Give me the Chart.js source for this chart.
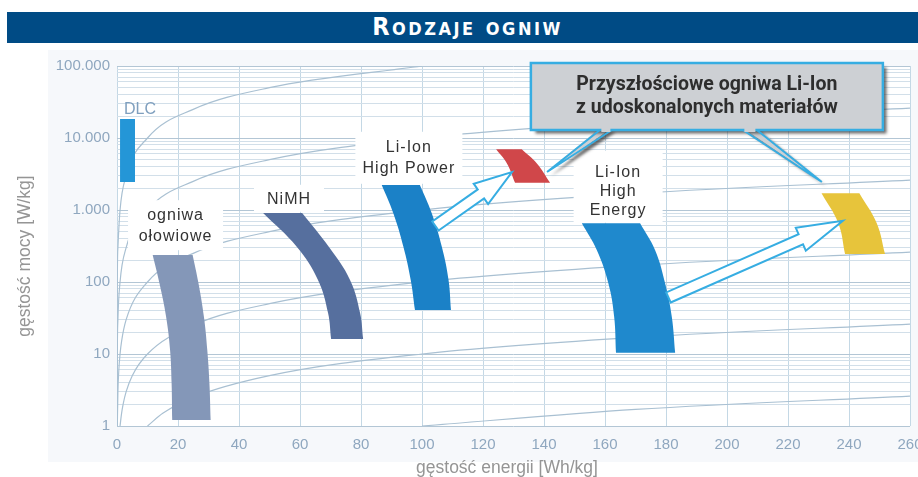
<!DOCTYPE html>
<html>
<head>
<meta charset="utf-8">
<script src="https://cdn.jsdelivr.net/npm/chart.js@4.4.1/dist/chart.umd.min.js"></script>
<style>
  html, body { margin: 0; padding: 0; background: #fff; }
  #wrap { position: relative; width: 918px; height: 477px; overflow: hidden; }
  canvas { position: absolute; left: 0; top: 0; }
  #bar {
    position: absolute; left: 7px; top: 12px; width: 901px; height: 31px; padding-left: 10px;
    background: #004b85; color: #fff; text-align: center; line-height: 32px;
    font: bold 25px "Liberation Sans Narrow", "DejaVu Sans Condensed", sans-serif;
    font-variant: small-caps; letter-spacing: 2.5px;
  }
</style>
</head>
<body>
<div id="wrap">
  <canvas id="ct-chart" width="918" height="477"></canvas>
  <div id="bar">Rodzaje ogniw</div>
</div>
<script>
// axes
const xTicks = [0, 20, 40, 60, 80, 100, 120, 140, 160, 180, 200, 220, 240, 260];
const yTickValues = [1, 10, 100, 1000, 10000, 100000];
const yTickLabels = ['1', '10', '100', '1.000', '10.000', '100.000'];

// outlines of the areas: energy [Wh/kg] / power [W/kg], down the left edge, up the right edge
const dlcE = [1.0, 1.0, 5.9, 5.9];
const dlcP = [18400, 2450, 2450, 18400];

const leadE = [11.7, 13.9, 16.1, 17.4, 17.9, 18.1, 30.7, 30.3, 29.6, 28.5, 26.7, 24.8];
const leadP = [237, 97, 33, 11.4, 3.95, 1.21, 1.21, 3.95, 11.4, 33, 97, 237];

const nimhE = [47.9, 59.0, 65.9, 69.2, 70.2, 80.7, 79.7, 76.4, 69.5, 60.7];
const nimhP = [908, 306, 107, 37, 16.1, 16.1, 37, 107, 306, 908];

const hpE = [86.8, 90.6, 93.9, 96.3, 97.7, 109.5, 108.7, 106.5, 103.2, 99.3];
const hpP = [2220, 900, 309, 107, 40.8, 40.8, 107, 309, 900, 2220];

const futHpE = [124.3, 127.8, 130.5, 142.0, 137.6, 132.7];
const futHpP = [6970, 4460, 2390, 2390, 4460, 6970];

const heE = [152.4, 157.3, 161.1, 163.0, 163.6, 183.0, 181.9, 179.7, 176.4, 171.5];
const heP = [653, 278, 96, 33, 10.4, 10.4, 33, 96, 278, 653];

const futHeE = [231.0, 236.5, 238.7, 251.8, 249.1, 243.4];
const futHeP = [1706, 653, 245, 245, 653, 1706];

// grey lines of constant discharge time
const iso1E = [0.001, 0.1, 0.3, 1, 3, 10, 25, 50, 100];
const iso1P = [1, 100, 300, 1000, 3000, 10000, 25000, 50000, 100000];
const iso2E = [0.01, 0.1, 0.3, 1, 3, 10, 25, 50, 100, 170, 260];
const iso2P = [1, 10, 30, 100, 300, 1000, 2500, 5000, 10000, 17000, 26000];
const iso3E = [0.1, 0.3, 0.6, 1, 1.5, 3, 10, 25, 50, 100, 170, 260];
const iso3P = [1, 3, 6, 10, 15, 30, 100, 250, 500, 1000, 1700, 2600];
const iso4E = [1, 1.5, 2, 3, 5, 10, 25, 50, 100, 170, 260];
const iso4P = [1, 1.5, 2, 3, 5, 10, 25, 50, 100, 170, 260];
const iso5E = [10, 15, 25, 50, 100, 170, 260];
const iso5P = [1, 1.5, 2.5, 5, 10, 17, 26];
const iso6E = [100, 170, 260];
const iso6P = [1, 1.7, 2.6];

function pts(E, P) {
  return E.map((e, i) => ({x: e, y: P[i]}));
}

function area(E, P, color) {
  const p = pts(E, P);
  // bottom corners twice so the curved edges stay sharp at the corners
  const m = p.length / 2;
  p.splice(m, 0, {...p[m]});
  p.splice(m, 0, {...p[m - 1]});
  return {data: p, showLine: true, fill: 'shape', backgroundColor: color, tension: 0.4,
          borderWidth: 0, pointRadius: 0, order: 1};
}

function iso(E, P) {
  return {data: pts(E, P), showLine: true, fill: false, borderColor: '#a9c0d2', borderWidth: 1.2,
          pointRadius: 0, cubicInterpolationMode: 'monotone', order: 2};
}

// labels, arrows and the callout
const labels = [
  {lines: ['ogniwa', 'ołowiowe'], at: [19.2, 596], gap: 21, box: [95, 50, -1]},
  {lines: ['NiMH'], at: [56.4, 1409], gap: 0, box: [70, 27, -1]},
  {lines: ['Li-Ion', 'High Power'], at: [95.7, 5310], gap: 21, box: [107, 52, 0]},
  {lines: ['Li-Ion', 'High', 'Energy'], at: [164.3, 1795], gap: 19, box: [89, 72, -5]}
];
const arrows = [
  {from: [104.4, 600], to: [129.5, 3370], headLen: 38},
  {from: [180.8, 61], to: [238.0, 710], headLen: 46}
];
const callout = {
  lines: ['Przyszłościowe ogniwa Li-Ion', 'z udoskonalonych materiałów'],
  at: [193.4, 37700], w: 352, h: 67,
  tails: [{a: 69, b: 81, tip: [141.0, 3370]}, {a: 212, b: 226, tip: [231.1, 2450]}]
};

function drawArrow(ctx, x0, y0, x1, y1, headLen) {
  const shaft = 5.5, head = 12.5;
  const dx = x1 - x0, dy = y1 - y0, len = Math.hypot(dx, dy);
  const ux = dx / len, uy = dy / len, nx = -uy, ny = ux;
  const bx = x1 - ux * headLen, by = y1 - uy * headLen;
  ctx.beginPath();
  ctx.moveTo(x0 + nx * shaft, y0 + ny * shaft);
  ctx.lineTo(bx + nx * shaft, by + ny * shaft);
  ctx.lineTo(bx + nx * head, by + ny * head);
  ctx.lineTo(x1, y1);
  ctx.lineTo(bx - nx * head, by - ny * head);
  ctx.lineTo(bx - nx * shaft, by - ny * shaft);
  ctx.lineTo(x0 - nx * shaft, y0 - ny * shaft);
  ctx.closePath();
  ctx.fillStyle = '#ffffff';
  ctx.fill();
  ctx.strokeStyle = '#36ade2';
  ctx.lineWidth = 2;
  ctx.stroke();
}

const sketch = {
  id: 'sketch',
  beforeDraw(chart) {
    const {ctx, chartArea: a} = chart;
    ctx.save();
    ctx.fillStyle = '#f6f8fb';
    ctx.fillRect(48, 50, 870, 412);
    ctx.fillStyle = '#ffffff';
    ctx.fillRect(a.left, a.top, a.right - a.left, a.bottom - a.top);
    ctx.restore();
  },
  afterDatasetsDraw(chart) {
    const ctx = chart.ctx;
    const px = v => chart.scales.x.getPixelForValue(v);
    const py = v => chart.scales.y.getPixelForValue(v);
    ctx.save();

    // white label boxes
    ctx.textAlign = 'center';
    ctx.textBaseline = 'middle';
    ctx.font = '16px "Liberation Sans", Arial, sans-serif';
    ctx.letterSpacing = '1px';
    labels.forEach(l => {
      const cx = px(l.at[0]), cy = py(l.at[1]);
      const [w, h, dy] = l.box;
      ctx.fillStyle = '#ffffff';
      ctx.fillRect(cx - w / 2, cy + dy - h / 2, w, h);
      ctx.fillStyle = '#333333';
      const y0 = cy - (l.lines.length - 1) * l.gap / 2;
      l.lines.forEach((t, i) => ctx.fillText(t, cx, y0 + i * l.gap));
    });

    ctx.textAlign = 'left';
    ctx.fillStyle = '#7f9fbe';
    ctx.letterSpacing = '0px';
    ctx.fillText('DLC', px(2.3), py(25100));

    arrows.forEach(a => drawArrow(ctx, px(a.from[0]), py(a.from[1]), px(a.to[0]), py(a.to[1]), a.headLen));

    // callout with shadow
    const bx = px(callout.at[0]) - callout.w / 2, by = py(callout.at[1]) - callout.h / 2;
    const grey = '#cdd0d4', blue = '#36ade2';
    ctx.save();
    ctx.shadowColor = 'rgba(40,40,40,0.7)';
    ctx.shadowOffsetX = 4;
    ctx.shadowOffsetY = 4;
    ctx.shadowBlur = 3;
    ctx.fillStyle = grey;
    callout.tails.forEach(t => {
      ctx.beginPath();
      ctx.moveTo(bx + t.a, by + callout.h - 2);
      ctx.lineTo(px(t.tip[0]), py(t.tip[1]));
      ctx.lineTo(bx + t.b, by + callout.h - 2);
      ctx.closePath();
      ctx.fill();
    });
    ctx.fillRect(bx, by, callout.w, callout.h);
    ctx.restore();
    ctx.strokeStyle = blue;
    ctx.lineWidth = 2;
    callout.tails.forEach(t => {
      ctx.beginPath();
      ctx.moveTo(bx + t.a, by + callout.h);
      ctx.lineTo(px(t.tip[0]), py(t.tip[1]));
      ctx.lineTo(bx + t.b, by + callout.h);
      ctx.stroke();
    });
    ctx.lineWidth = 2.5;
    ctx.strokeRect(bx, by, callout.w, callout.h);
    ctx.fillStyle = grey;
    callout.tails.forEach(t => ctx.fillRect(bx + t.a + 1.5, by + callout.h - 3, t.b - t.a - 3, 5));

    ctx.textAlign = 'center';
    ctx.fillStyle = '#2e2e2e';
    ctx.font = 'bold 19.5px Roboto, "Liberation Sans", sans-serif';
    ctx.fillText(callout.lines[0], bx + callout.w / 2, by + callout.h / 2 - 11.5);
    ctx.fillText(callout.lines[1], bx + callout.w / 2, by + callout.h / 2 + 11.5);
    ctx.restore();
  },
  afterDraw(chart) {
    const ctx = chart.ctx;
    ctx.save();
    ctx.fillStyle = '#959595';
    ctx.font = '17.5px "Liberation Sans", Arial, sans-serif';
    ctx.textAlign = 'center';
    ctx.textBaseline = 'middle';
    ctx.fillText('gęstość energii [Wh/kg]', 507, 468);
    ctx.translate(25, 256);
    ctx.rotate(-Math.PI / 2);
    ctx.fillText('gęstość mocy [W/kg]', 0, 0);
    ctx.restore();
  }
};

const ctx = document.getElementById('ct-chart');

const myChart = new Chart(ctx, {
  type: 'scatter',
  data: {
    datasets: [
      area(dlcE, dlcP, '#2496d7'),
      area(leadE, leadP, '#8497b8'),
      area(nimhE, nimhP, '#566f9e'),
      area(hpE, hpP, '#1b81c7'),
      area(futHpE, futHpP, '#d0474a'),
      area(heE, heP, '#1f89cd'),
      area(futHeE, futHeP, '#e7c43b'),
      iso(iso1E, iso1P),
      iso(iso2E, iso2P),
      iso(iso3E, iso3P),
      iso(iso4E, iso4P),
      iso(iso5E, iso5P),
      iso(iso6E, iso6P)
    ]
  },
  options: {
    responsive: false,
    animation: false,
    devicePixelRatio: 1,
    layout: {padding: {left: 0, right: 8, top: 66, bottom: 0}},
    plugins: {legend: {display: false}, tooltip: {enabled: false}},
    scales: {
      x: {
        type: 'linear', min: 0, max: 260,
        afterBuildTicks: s => { s.ticks = xTicks.map(v => ({value: v})); },
        afterFit: s => { s.height = 51; s.paddingLeft = 0; s.paddingRight = 0; },
        grid: {color: '#c4d8e5', drawTicks: false},
        border: {display: false},
        ticks: {color: '#8fa7bf', font: {family: 'Liberation Sans', size: 15}, padding: 10,
                maxRotation: 0, autoSkip: false}
      },
      y: {
        type: 'logarithmic', min: 1, max: 100000,
        afterBuildTicks: s => {
          const t = [];
          for (let k = 0; k < 5; k++) {
            for (let m = 1; m < 10; m++) t.push({value: m * Math.pow(10, k)});
          }
          t.push({value: 100000});
          s.ticks = t;
        },
        afterFit: s => { s.width = 117; },
        grid: {
          color: c => (c.tick && yTickValues.includes(c.tick.value)) ? '#b3c6d5' : '#d2dfe9',
          drawTicks: false
        },
        border: {display: false},
        ticks: {
          color: '#8fa7bf', font: {family: 'Liberation Sans', size: 15}, padding: 7, autoSkip: false,
          callback: v => {
            const i = yTickValues.indexOf(v);
            return i >= 0 ? yTickLabels[i] : '';
          }
        }
      }
    }
  },
  plugins: [sketch]
});
</script>
</body>
</html>
